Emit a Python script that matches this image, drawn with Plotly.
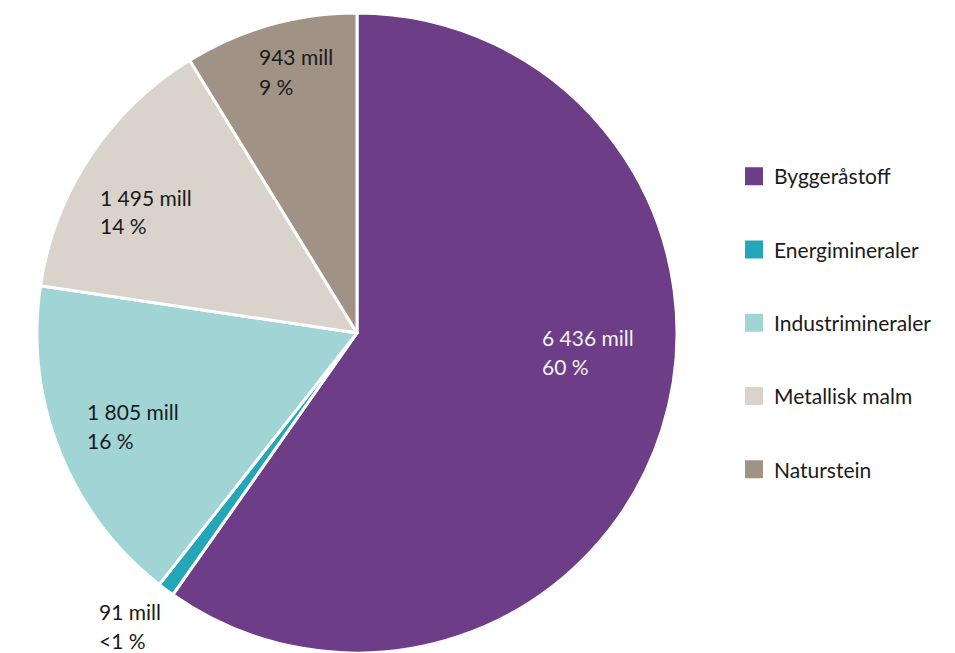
import plotly.graph_objects as go

categories = ["Byggeråstoff", "Energimineraler", "Industrimineraler", "Metallisk malm", "Naturstein"]
values_mill = [6436, 91, 1805, 1495, 943]
value_labels = ["6 436 mill", "91 mill", "1 805 mill", "1 495 mill", "943 mill"]
pct_labels = ["60 %", "<1 %", "16 %", "14 %", "9 %"]
colors = ["#6D3D87", "#24A6B8", "#A1D5D5", "#D9D3CC", "#A09385"]
label_colors = ["#F2F2F2", "#1A1A1A", "#1A1A1A", "#1A1A1A", "#1A1A1A"]
# label anchor (left x px, first-line centre y px)
label_pos = [(540, 337), (97, 611), (85, 411), (98, 197), (257, 57)]

W, H = 955, 653
FONT = "Lato"

fig = go.Figure()
fig.add_trace(go.Pie(
    labels=categories, values=values_mill, sort=False, direction="clockwise",
    rotation=0, marker=dict(colors=colors, line=dict(color="white", width=3)),
    textinfo="none", hoverinfo="label+value+percent", showlegend=False,
    domain=dict(x=[37 / W, 677 / W], y=[0, 640 / H]),
))

# legend entries
for i, (c, col) in enumerate(zip(categories, colors)):
    fig.add_trace(go.Scatter(
        x=[None], y=[None], mode="markers", name=c, legendgroup=f"g{i}",
        marker=dict(symbol="square", size=16, color=col, line=dict(color=col, width=2)),
        hoverinfo="skip",
    ))

ann = []
for (lx, ly), v, p, tc in zip(label_pos, value_labels, pct_labels, label_colors):
    for k, t in enumerate([v, p]):
        ann.append(dict(
            x=lx / W, y=1 - (ly + 29 * k) / H, xref="paper", yref="paper",
            text=t, showarrow=False, xanchor="left", yanchor="middle",
            font=dict(family=FONT, size=21, color=tc),
        ))

fig.update_layout(
    width=W, height=H, margin=dict(l=0, r=0, t=0, b=0),
    paper_bgcolor="white", plot_bgcolor="white",
    xaxis=dict(visible=False), yaxis=dict(visible=False),
    annotations=ann,
    legend=dict(
        x=734 / W, y=1 - 156 / H, xanchor="left", yanchor="top",
        font=dict(family=FONT, size=21, color="#1A1A1A"),
        tracegroupgap=43, bgcolor="rgba(0,0,0,0)",
    ),
    font=dict(family=FONT),
)

fig.write_html("out.html", config={"displayModeBar": False},
               post_script="document.body.style.margin='0';")
